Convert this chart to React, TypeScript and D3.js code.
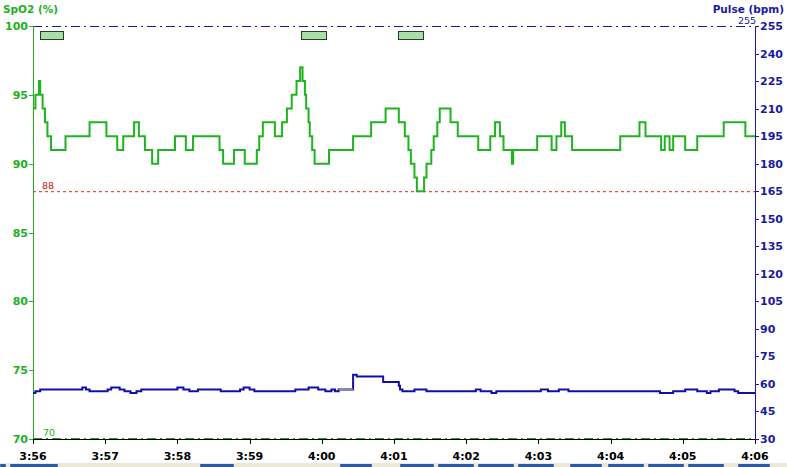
import React from 'react';
import * as d3 from 'd3';

// ---- data ----
const timeTickLabels = ['3:56', '3:57', '3:58', '3:59', '4:00', '4:01', '4:02', '4:03', '4:04', '4:05', '4:06'];
const spo2Ticks = [100, 95, 90, 85, 80, 75, 70];
const pulseTicks = [255, 240, 225, 210, 195, 180, 165, 150, 135, 120, 105, 90, 75, 60, 45, 30];

// seconds since 3:56:00
const spo2Times = [0, 1, 2, 5, 6, 8, 10, 12, 15, 27, 47, 61, 70, 75, 84, 88, 93, 99, 104, 118, 127, 133, 155, 158, 167, 176, 186, 188, 191, 201, 207, 211, 215, 219, 222, 224, 226, 227, 229, 230, 232, 234, 246, 266, 281, 293, 304, 309, 312, 314, 317, 319, 325, 327, 331, 333, 336, 338, 347, 353, 370, 380, 384, 388, 391, 398, 399, 419, 431, 435, 439, 442, 448, 488, 504, 509, 522, 525, 529, 532, 542, 552, 574, 592, 600];
const spo2Values = [94, 94, 95, 96, 95, 94, 93, 92, 91, 92, 93, 92, 91, 92, 93, 92, 91, 90, 91, 92, 91, 92, 91, 90, 91, 90, 91, 92, 93, 92, 93, 94, 95, 96, 97, 96, 95, 94, 93, 92, 91, 90, 91, 92, 93, 94, 93, 92, 91, 90, 89, 88, 89, 90, 91, 92, 93, 94, 93, 92, 91, 92, 93, 92, 91, 90, 91, 92, 91, 92, 93, 92, 91, 92, 93, 92, 91, 92, 91, 92, 91, 92, 93, 92, 92];

const pulseTimes = [0, 2, 6, 41, 44, 47, 62, 65, 72, 76, 81, 86, 90, 120, 125, 130, 137, 156, 172, 175, 180, 184, 218, 229, 237, 243, 248, 251, 254, 266, 269, 291, 304, 305, 307, 317, 327, 368, 372, 381, 385, 422, 428, 437, 445, 521, 532, 542, 552, 560, 563, 570, 583, 586, 600];
const pulseValues = [55, 56, 57, 58, 57, 56, 57, 58, 57, 56, 55, 56, 57, 58, 57, 56, 57, 56, 57, 58, 57, 56, 57, 58, 57, 56, 57, 56, 57, 65, 64, 61, 59, 57, 56, 57, 56, 57, 56, 55, 56, 57, 56, 57, 56, 55, 56, 57, 56, 55, 56, 57, 56, 55, 55];
const pulseGreyStart = 254;
const pulseGreyEnd = 266;

const eventStarts = [6, 223, 303];
const eventEnds = [25, 244, 324];

const spo2Alarm = 88;
const spo2Floor = 70;
const pulseCeil = 255;

// ---- layout ----
const W = 787;
const H = 467;
const L = 33;
const R = 755;
const T = 26;
const B = 439;

const GREEN = '#22b022';
const LINE_GREEN = '#1fb41f';
const NAVY = '#1a1aa0';
const LINE_NAVY = '#1010a8';
const FONT = "'DejaVu Sans', Verdana, sans-serif";

export default function App() {
  const x = d3.scaleLinear().domain([0, 600]).range([L, R]);
  const yS = d3.scaleLinear().domain([70, 100]).range([B, T]);
  const yP = d3.scaleLinear().domain([30, 255]).range([B, T]);

  const spo2 = spo2Times.map((t, i) => [t, spo2Values[i]] as [number, number]);
  const pulse = pulseTimes.map((t, i) => [t, pulseValues[i]] as [number, number]);

  const lineS = d3.line<[number, number]>().x(d => x(d[0])).y(d => yS(d[1])).curve(d3.curveStepAfter);
  const lineP = d3.line<[number, number]>().x(d => x(d[0])).y(d => yP(d[1])).curve(d3.curveStepAfter);

  const greyIdx = pulseTimes.findIndex(t => t >= pulseGreyStart);
  const greyVal = pulseValues[greyIdx];

  const timeTicks = timeTickLabels.map((_, i) => i * 60);

  const tabs = [[0, 6], [10, 58], [200, 234], [340, 372], [400, 434], [438, 474], [478, 514], [518, 554], [570, 602], [608, 644], [648, 684], [688, 724], [738, 770]];

  return (
    <svg width={W} height={H} style={{ position: 'absolute', left: 0, top: 0, background: '#fff' }} fontFamily={FONT}>
      <rect x={0} y={0} width={W} height={H} fill="#fff" />
      {/* bottom window strip */}
      <rect x={0} y={463} width={W} height={4} fill="#ece9d8" />
      {tabs.map(([a, b], i) => (
        <rect key={i} x={a} y={464} width={b - a} height={3} rx={1} fill="#2a5aa8" />
      ))}

      {/* titles */}
      <text x={3} y={13} fill={GREEN} fontWeight="bold" fontSize={10.5}>SpO2 (%)</text>
      <text x={784} y={13} fill={NAVY} fontWeight="bold" fontSize={10.5} textAnchor="end">Pulse (bpm)</text>

      {/* reference lines */}
      <line x1={L} x2={R} y1={yP(pulseCeil) + 0.5} y2={yP(pulseCeil) + 0.5} stroke={NAVY} strokeWidth={1} strokeDasharray="9,4,2,4" />
      <text x={738} y={yP(pulseCeil) - 2} fill={NAVY} fontSize={9.5}>{pulseCeil}</text>
      <line x1={L} x2={R} y1={yS(spo2Alarm) + 0.5} y2={yS(spo2Alarm) + 0.5} stroke="#e82020" strokeWidth={1} strokeDasharray="3,3" />
      <text x={42} y={yS(spo2Alarm) - 2} fill="#d02020" fontSize={9.5}>{spo2Alarm}</text>

      {/* bottom axis */}
      <line x1={L} x2={R} y1={B + 0.5} y2={B + 0.5} stroke="#000" strokeWidth={1} />
      <line x1={L} x2={R} y1={yS(spo2Floor) - 0.5} y2={yS(spo2Floor) - 0.5} stroke="#2a9a2a" strokeWidth={1} strokeDasharray="9,4,2,4" />
      <text x={43} y={yS(spo2Floor) - 3} fill={GREEN} fontSize={9.5}>{spo2Floor}</text>
      {timeTicks.map((t, i) => (
        <g key={t}>
          <line x1={Math.round(x(t)) + 0.5} x2={Math.round(x(t)) + 0.5} y1={B} y2={B + 5} stroke="#000" />
          <text x={x(t)} y={460} textAnchor="middle" fontWeight="bold" fontSize={11} fill="#000">{timeTickLabels[i]}</text>
        </g>
      ))}

      {/* left axis */}
      <line x1={L + 0.5} x2={L + 0.5} y1={T} y2={B} stroke={GREEN} strokeWidth={1} />
      {spo2Ticks.map(v => (
        <g key={v}>
          <line x1={L - 4} x2={L} y1={Math.round(yS(v)) + 0.5} y2={Math.round(yS(v)) + 0.5} stroke={GREEN} />
          <text x={28} y={yS(v) + 4} textAnchor="end" fontWeight="bold" fontSize={11} fill={GREEN}>{v}</text>
        </g>
      ))}

      {/* right axis */}
      <line x1={R + 0.5} x2={R + 0.5} y1={T} y2={B} stroke={NAVY} strokeWidth={1} />
      {pulseTicks.map(v => (
        <g key={v}>
          <line x1={R} x2={R + 4} y1={Math.round(yP(v)) + 0.5} y2={Math.round(yP(v)) + 0.5} stroke={NAVY} />
          <text x={760} y={yP(v) + 4} fontWeight="bold" fontSize={11} fill={NAVY}>{v}</text>
        </g>
      ))}

      {/* event markers */}
      {eventStarts.map((s, i) => (
        <rect key={i} x={Math.round(x(s)) + 0.5} y={31.5} width={Math.round(x(eventEnds[i]) - x(s))} height={8} fill="#a8dea8" stroke="#2a3a2a" strokeWidth={1} />
      ))}

      {/* series */}
      <path d={lineP(pulse) || ''} fill="none" stroke={LINE_NAVY} strokeWidth={2} />
      <line x1={x(pulseGreyStart)} x2={x(pulseGreyEnd)} y1={yP(greyVal)} y2={yP(greyVal)} stroke="#8888a0" strokeWidth={2} />
      <path d={lineS(spo2) || ''} fill="none" stroke={LINE_GREEN} strokeWidth={2} />
    </svg>
  );
}
